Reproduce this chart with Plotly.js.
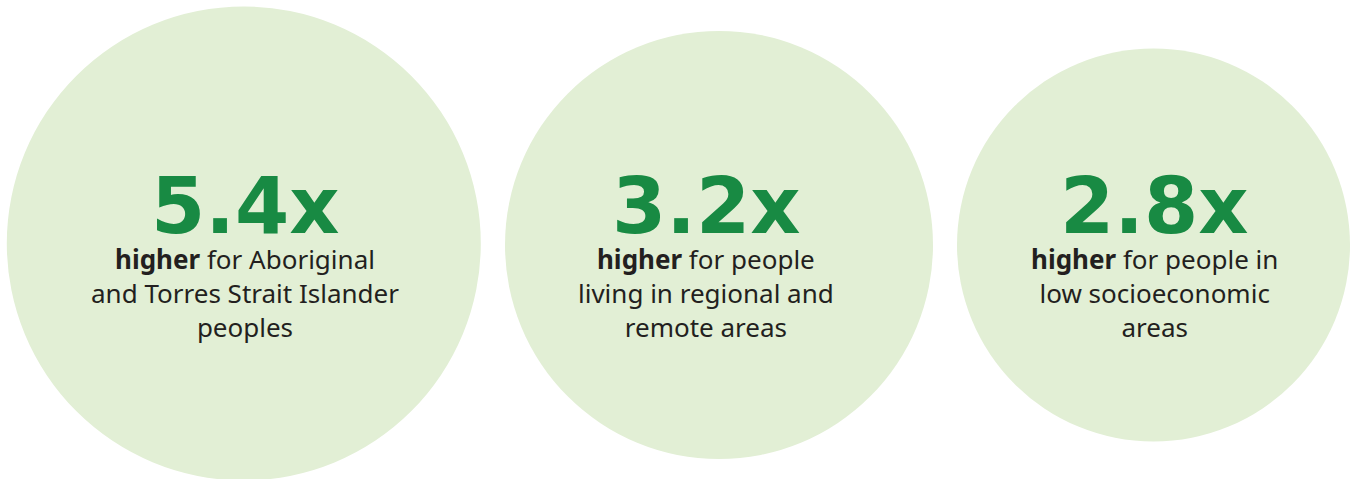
<!DOCTYPE html>
<html>
<head>
<meta charset="utf-8">
<script src="https://cdn.plot.ly/plotly-3.0.1.min.js"></script>
<style>html,body{margin:0;padding:0;background:#fff;}#chart{width:1355px;height:479px;}</style>
</head>
<body>
<div id="chart"></div>
<script>
// Data
const groups = ["Aboriginal and Torres Strait Islander peoples", "people living in regional and remote areas", "people in low socioeconomic areas"];
const ratios = [5.4, 3.2, 2.8];
const descriptions = [
  "<b>higher</b> for Aboriginal<br>and Torres Strait Islander<br>peoples",
  "<b>higher</b> for people<br>living in regional and<br>remote areas",
  "<b>higher</b> for people in<br>low socioeconomic<br>areas"
];

// Layout (pixel space)
const circleX = [243.8, 719, 1153.5];
const circleY = [243.5, 245, 245];
const circleR = [237, 214, 196.5];
const textX = [245, 706, 1154.5];
const numTop = 159;
const descY = 293;

const fill = "#e2efd5";
const green = "#188a43";
const dark = "#231f20";

const shapes = circleX.map((cx, i) => ({
  type: "circle", xref: "x", yref: "y",
  x0: cx - circleR[i], x1: cx + circleR[i],
  y0: circleY[i] - circleR[i], y1: circleY[i] + circleR[i],
  fillcolor: fill, line: {width: 0}, layer: "below"
}));

const annotations = [];
ratios.forEach((v, i) => {
  annotations.push({
    x: textX[i], y: numTop, xref: "x", yref: "y", showarrow: false,
    text: "<b>" + v.toFixed(1) + "x</b>", xanchor: "center", yanchor: "top",
    height: 76, valign: "top",
    font: {family: "DejaVu Sans", size: 78, color: green}
  });
  annotations.push({
    x: textX[i], y: descY, xref: "x", yref: "y", showarrow: false,
    text: descriptions[i], xanchor: "center", yanchor: "middle", align: "center",
    font: {family: "Noto Sans", size: 26, color: dark}
  });
});

const trace = {x: circleX, y: circleY, type: "scatter", mode: "markers",
  marker: {size: 1, opacity: 0}, hoverinfo: "text", text: groups, showlegend: false};

Plotly.newPlot("chart", [trace], {
  width: 1355, height: 479,
  margin: {l: 0, r: 0, t: 0, b: 0},
  paper_bgcolor: "#ffffff", plot_bgcolor: "#ffffff",
  xaxis: {range: [0, 1355], visible: false, fixedrange: true},
  yaxis: {range: [479, 0], visible: false, fixedrange: true},
  shapes: shapes, annotations: annotations, showlegend: false
}, {displayModeBar: false, staticPlot: true});
</script>
</body>
</html>
